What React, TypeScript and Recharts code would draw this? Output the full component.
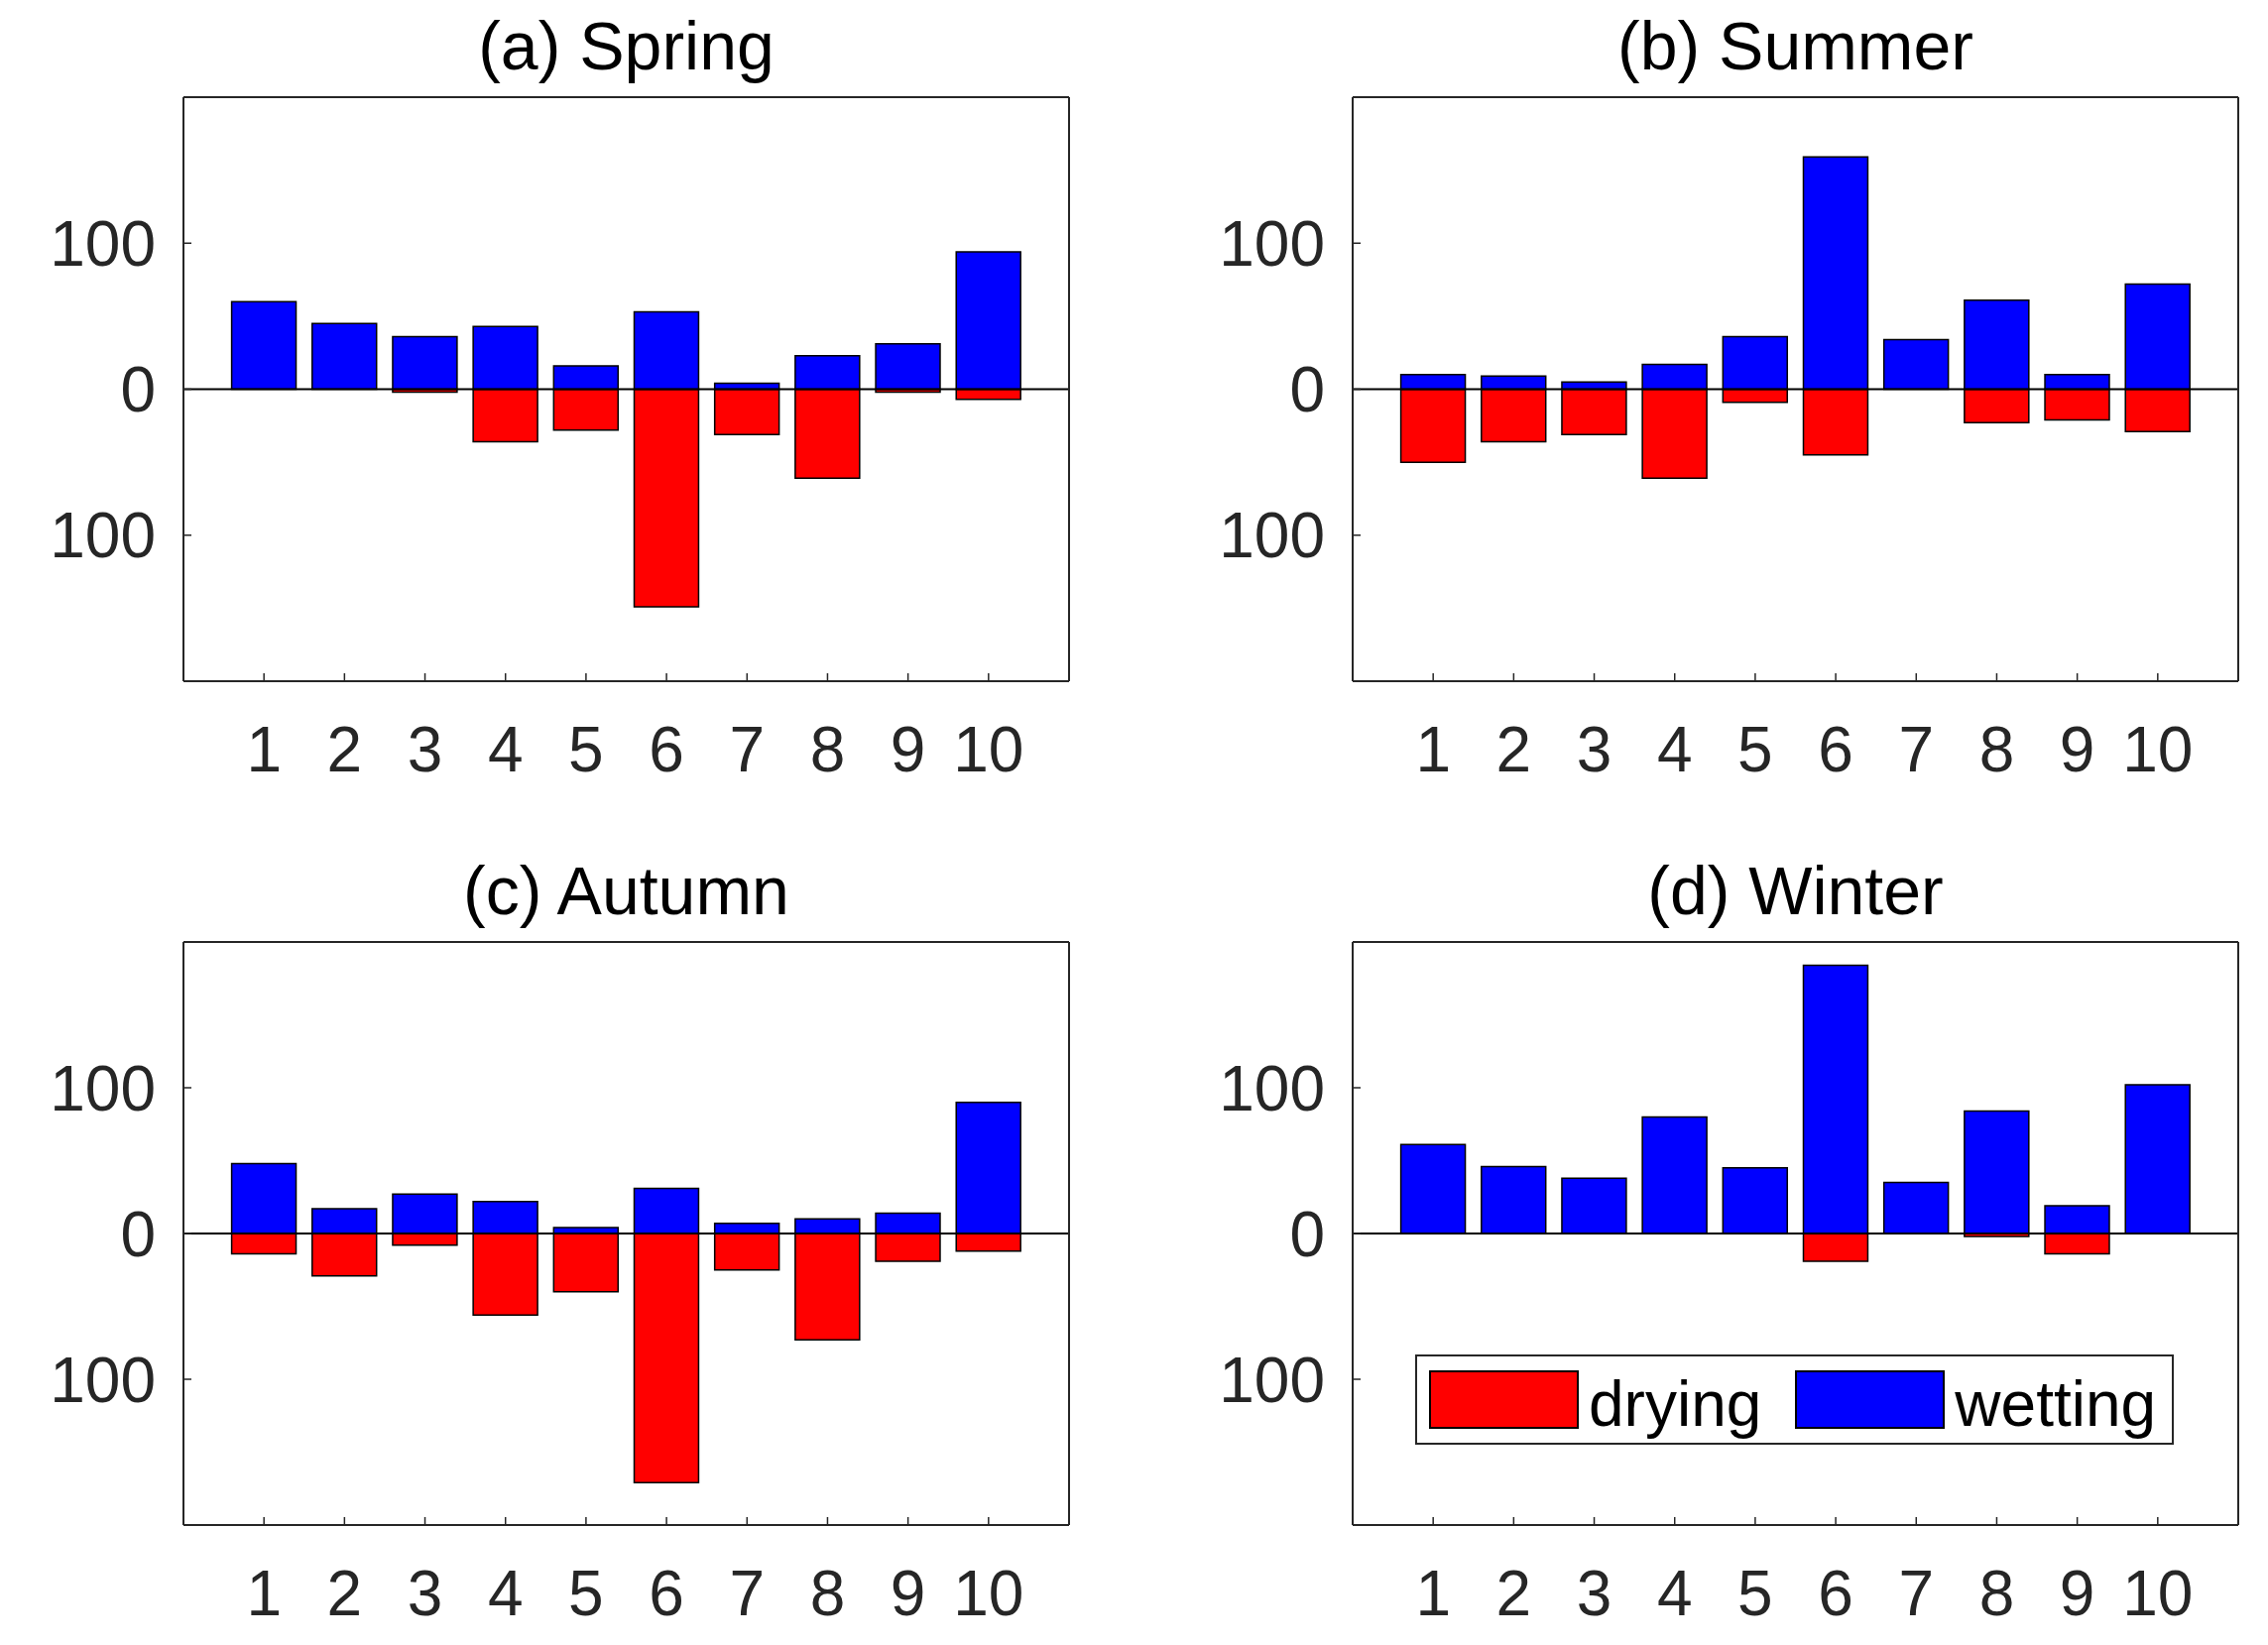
import React from "react";
import { BarChart, Bar, XAxis, YAxis, ReferenceLine, Legend } from "recharts";

// regions 1..10 along the x axis
const categories = [1, 2, 3, 4, 5, 6, 7, 8, 9, 10];
const yTicks = [-100, 0, 100];
const yDomain: [number, number] = [-200, 200];

const springWetting = [60, 45, 36, 43, 16, 53, 4, 23, 31, 94];
const springDrying = [0, 0, -2, -36, -28, -149, -31, -61, -2, -7];

const summerWetting = [10, 9, 5, 17, 36, 159, 34, 61, 10, 72];
const summerDrying = [-50, -36, -31, -61, -9, -45, 0, -23, -21, -29];

const autumnWetting = [48, 17, 27, 22, 4, 31, 7, 10, 14, 90];
const autumnDrying = [-14, -29, -8, -56, -40, -171, -25, -73, -19, -12];

const winterWetting = [61, 46, 38, 80, 45, 184, 35, 84, 19, 102];
const winterDrying = [0, 0, 0, 0, 0, -19, 0, -2, -14, 0];

const FONT = '"Liberation Sans", Arial, Helvetica, sans-serif';
const INK = "#262626";
const RED = "#ff0000";
const BLUE = "#0000ff";

const AX_W = 180; // room for y tick labels
const X_H = 110; // room for x tick labels
const PAD = 10;

function buildRows(wetting: number[], drying: number[]) {
  return categories.map((c, i) => ({
    cat: c,
    drying: drying[i],
    wetting: wetting[i],
  }));
}

function LegendBox(props: any) {
  const items = props.payload || [];
  return (
    <div
      style={{
        width: 765,
        height: 91,
        boxSizing: "border-box",
        border: `2px solid ${INK}`,
        background: "#fff",
        display: "flex",
        alignItems: "center",
        paddingLeft: 12,
        fontFamily: FONT,
      }}
    >
      {items.map((entry: any, i: number) => (
        <React.Fragment key={entry.value}>
          <span
            style={{
              width: 151,
              height: 59,
              boxSizing: "border-box",
              background: entry.color,
              border: "2px solid #000",
              marginRight: 10,
              flex: "none",
            }}
          />
          <span
            style={{
              fontSize: 64,
              lineHeight: 1,
              color: "#000",
              marginRight: i === 0 ? 34 : 0,
              paddingTop: 8,
            }}
          >
            {entry.value}
          </span>
        </React.Fragment>
      ))}
    </div>
  );
}

interface PanelProps {
  title: string;
  wetting: number[];
  drying: number[];
  x: number;
  y: number;
  w: number;
  h: number;
  legend?: { left: number; top: number };
}

function Panel({ title, wetting, drying, x, y, w, h, legend }: PanelProps) {
  const data = buildRows(wetting, drying);
  const step = w / 11;
  const pad = w / 22;
  const tickStyle = { fill: INK, fontSize: 64, fontFamily: FONT };
  const axisLine = { stroke: INK, strokeWidth: 2 };
  const tickLine = { stroke: INK, strokeWidth: 1.5 };

  return (
    <>
      <div
        style={{
          position: "absolute",
          left: x,
          top: y - 86,
          width: w,
          textAlign: "center",
          fontSize: 68,
          lineHeight: 1,
          color: "#000",
          fontFamily: FONT,
          whiteSpace: "nowrap",
        }}
      >
        {title}
      </div>
      <div style={{ position: "absolute", left: x - AX_W, top: y - PAD }}>
        <BarChart
          width={AX_W + w + PAD}
          height={PAD + h + X_H}
          data={data}
          margin={{ top: PAD - 1, right: PAD - 1, bottom: 0, left: 0 }}
          stackOffset="sign"
        >
          <XAxis
            xAxisId="bottom"
            dataKey="cat"
            type="category"
            interval={0}
            padding={{ left: pad, right: pad }}
            height={X_H}
            tickSize={-8}
            tickMargin={54}
            axisLine={axisLine}
            tickLine={tickLine}
            tick={tickStyle}
          />
          <XAxis
            xAxisId="top"
            orientation="top"
            dataKey="cat"
            type="category"
            interval={0}
            padding={{ left: pad, right: pad }}
            height={1}
            tickSize={-8}
            axisLine={axisLine}
            tickLine={tickLine}
            tick={false}
          />
          <YAxis
            yAxisId="left"
            type="number"
            domain={yDomain}
            ticks={yTicks}
            allowDataOverflow
            width={AX_W}
            tickSize={-8}
            tickMargin={36}
            axisLine={axisLine}
            tickLine={tickLine}
            tick={tickStyle}
            tickFormatter={(v: number) => String(Math.abs(v))}
          />
          <YAxis
            yAxisId="right"
            orientation="right"
            type="number"
            domain={yDomain}
            ticks={yTicks}
            allowDataOverflow
            width={1}
            tickSize={-8}
            axisLine={axisLine}
            tickLine={tickLine}
            tick={false}
          />
          <Bar
            dataKey="drying"
            name="drying"
            stackId="s"
            xAxisId="bottom"
            yAxisId="left"
            fill={RED}
            stroke="#000"
            strokeWidth={1.5}
            barSize={step * 0.8}
            isAnimationActive={false}
          />
          <Bar
            dataKey="wetting"
            name="wetting"
            stackId="s"
            xAxisId="bottom"
            yAxisId="left"
            fill={BLUE}
            stroke="#000"
            strokeWidth={1.5}
            barSize={step * 0.8}
            isAnimationActive={false}
          />
          <ReferenceLine
            y={0}
            xAxisId="bottom"
            yAxisId="left"
            stroke="#000"
            strokeWidth={2}
          />
          {legend && (
            <Legend
              layout="vertical"
              align="center"
              verticalAlign="middle"
              content={LegendBox}
              wrapperStyle={{
                left: legend.left,
                top: legend.top,
                width: 765,
                height: 91,
              }}
            />
          )}
        </BarChart>
      </div>
    </>
  );
}

export default function App() {
  return (
    <div
      style={{
        position: "absolute",
        left: 0,
        top: 0,
        width: 2287,
        height: 1659,
        background: "#fff",
        fontFamily: FONT,
      }}
    >
      <Panel title="(a) Spring" wetting={springWetting} drying={springDrying} x={185} y={98} w={893} h={589} />
      <Panel title="(b) Summer" wetting={summerWetting} drying={summerDrying} x={1364} y={98} w={893} h={589} />
      <Panel title="(c) Autumn" wetting={autumnWetting} drying={autumnDrying} x={185} y={950} w={893} h={588} />
      <Panel
        title="(d) Winter"
        wetting={winterWetting}
        drying={winterDrying}
        x={1364}
        y={950}
        w={893}
        h={588}
        legend={{ left: 1427 - (1364 - AX_W), top: 1366 - (950 - PAD) }}
      />
    </div>
  );
}
